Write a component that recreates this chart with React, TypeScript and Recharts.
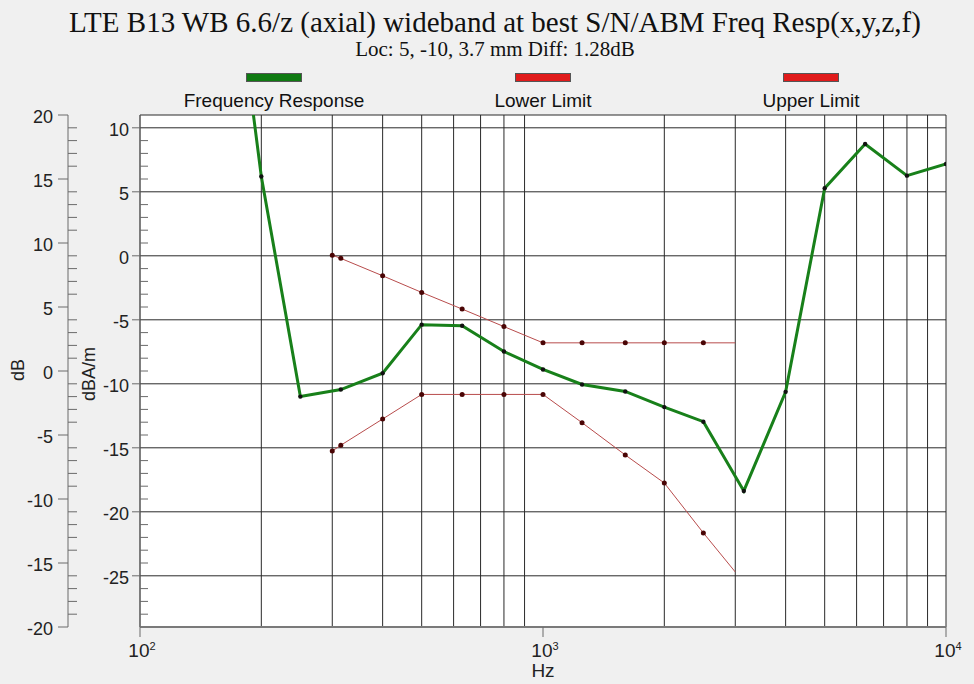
import React from "react";
import { CartesianGrid, Line, LineChart, XAxis, YAxis } from "recharts";

// Frequency response (dBA/m) at third-octave bands.
const respFreq = [160, 200, 250, 315, 400, 500, 630, 800, 1000, 1250, 1600, 2000, 2500, 3150, 4000, 5000, 6300, 8000, 10000];
const respVals = [30, 6.2, -11.0, -10.45, -9.17, -5.38, -5.46, -7.48, -8.88, -10.05, -10.6, -11.82, -12.96, -18.37, -10.63, 5.28, 8.73, 6.26, 7.17];

// Limit mask, upper and lower edge.
const limitFreq = [300, 315, 400, 500, 630, 800, 1000, 1250, 1600, 2000, 2500, 3000];
const upperVals = [0.05, -0.2, -1.56, -2.86, -4.16, -5.53, -6.8, -6.8, -6.8, -6.8, -6.8, -6.8];
const lowerVals = [-15.25, -14.8, -12.75, -10.83, -10.83, -10.83, -10.83, -13.04, -15.56, -17.75, -21.65, -24.7];

const decadeTicks = [100, 1000, 10000];
const gridFreqs = [200, 300, 400, 500, 600, 700, 800, 900, 2000, 3000, 4000, 5000, 6000, 7000, 8000, 9000];
const dbaGrid = [-25, -20, -15, -10, -5, 0, 5, 10];
const dbaTicks = Array.from({ length: 39 }, (_, i) => i - 28);
const dbTicks = Array.from({ length: 41 }, (_, i) => i - 20);

const legendNames = ["Frequency Response", "Lower Limit", "Upper Limit"];
const legendColors = ["#0f7a12", "#e01b1b", "#e01b1b"];
const legendCenters = [274, 543, 811];

const resp = respFreq.map((f, i) => ({ f, v: respVals[i] }));
const upper = limitFreq.map((f, i) => ({ f, v: upperVals[i] }));
const lower = limitFreq.map((f, i) => ({ f, v: lowerVals[i] }));

const FONT = "'Liberation Sans', Arial, sans-serif";
const SERIF = "'Liberation Serif', 'Times New Roman', serif";
const AXIS = "#6a6a6a";

function YTick(props: any) {
  const { x, y, payload, len, minor, gap } = props;
  const v = payload.value;
  if (v % 5 !== 0) {
    return <line x1={x} x2={x + minor} y1={y} y2={y} stroke={AXIS} />;
  }
  return (
    <g>
      <line x1={x - len} x2={x} y1={y} y2={y} stroke={AXIS} />
      <text x={x - len - gap} y={y + 2} textAnchor="end" dominantBaseline="central" fontSize={18} fontFamily={FONT} fill="#222">
        {v}
      </text>
    </g>
  );
}

function XTick(props: any) {
  const { x, y, payload } = props;
  const exp = Math.round(Math.log10(payload.value));
  return (
    <g>
      <line x1={x} x2={x} y1={y} y2={y + 10} stroke={AXIS} />
      <text x={x + 2} y={y + 30} textAnchor="middle" fontSize={19} fontFamily={FONT} fill="#222">
        10
        <tspan dy={-7} fontSize={11}>{exp}</tspan>
      </text>
    </g>
  );
}

function LimitDot(props: any) {
  const { cx, cy, index } = props;
  if (index === limitFreq.length - 1) return <g key={index} />;
  return <circle key={index} cx={cx} cy={cy} r={2.5} fill="#4a0505" />;
}

function RespDot(props: any) {
  const { cx, cy, index } = props;
  return <circle key={index} cx={cx} cy={cy} r={2.2} fill="#111" />;
}

export default function App() {
  return (
    <div style={{ position: "absolute", left: 0, top: 0, width: 974, height: 684, background: "#f0f0f0", overflow: "hidden" }}>
      <div style={{ position: "absolute", top: 8, left: 8, width: 974, textAlign: "center", fontFamily: SERIF, fontSize: 29, color: "#111", lineHeight: "29px" }}>
        LTE B13 WB 6.6/z (axial) wideband at best S/N/ABM Freq Resp(x,y,z,f)
      </div>
      <div style={{ position: "absolute", top: 40, left: 8, width: 974, textAlign: "center", fontFamily: SERIF, fontSize: 21, color: "#111", lineHeight: "18px" }}>
        Loc: 5, -10, 3.7 mm Diff: 1.28dB
      </div>
      {legendNames.map((name, i) => (
        <div key={name}>
          <div
            style={{
              position: "absolute",
              left: legendCenters[i] - 28,
              top: 73,
              width: 56,
              height: 9,
              background: legendColors[i],
              border: "1px solid #555",
              boxSizing: "border-box",
            }}
          />
          <div style={{ position: "absolute", left: legendCenters[i] - 150, width: 300, top: 90, textAlign: "center", fontFamily: FONT, fontSize: 19, color: "#111" }}>
            {name}
          </div>
        </div>
      ))}
      <div style={{ position: "absolute", left: 0, top: 0 }}>
        <LineChart width={974} height={684} margin={{ top: 115, right: 28, bottom: 0, left: 28 }}>
          <CartesianGrid xAxisId="zgx" yAxisId="zgy" fill="#ffffff" stroke="#2a2a2a" />
          <XAxis
            xAxisId="ax"
            dataKey="f"
            type="number"
            scale="log"
            domain={[100, 10000]}
            ticks={decadeTicks}
            interval={0}
            height={57}
            tickSize={0}
            tickMargin={0}
            tickLine={false}
            tick={<XTick />}
            axisLine={{ stroke: "#7a7a7a", strokeWidth: 2 }}
            allowDataOverflow
          />
          <XAxis xAxisId="top" orientation="top" type="number" domain={[0, 1]} height={0} tick={false} tickLine={false} axisLine={{ stroke: AXIS }} allowDataOverflow />
          <XAxis xAxisId="zgx" dataKey="f" type="number" scale="log" domain={[100, 10000]} ticks={gridFreqs} interval={0} height={0} hide allowDataOverflow />
          <YAxis
            yAxisId="a1"
            type="number"
            domain={[-29, 11]}
            ticks={dbaTicks}
            interval={0}
            width={72}
            tickSize={0}
            tickMargin={0}
            tickLine={false}
            tick={<YTick len={8} minor={8} gap={3} />}
            axisLine={{ stroke: AXIS }}
            allowDataOverflow
          />
          <YAxis
            yAxisId="a2"
            type="number"
            domain={[-20, 20]}
            ticks={dbTicks}
            interval={0}
            width={40}
            tickSize={0}
            tickMargin={0}
            tickLine={false}
            tick={<YTick len={10} minor={9} gap={5} />}
            axisLine={{ stroke: AXIS }}
            allowDataOverflow
          />
          <YAxis yAxisId="right" orientation="right" type="number" domain={[0, 1]} width={0} tick={false} tickLine={false} axisLine={{ stroke: AXIS }} allowDataOverflow />
          <YAxis yAxisId="zgy" type="number" domain={[-29, 11]} ticks={dbaGrid} interval={0} width={0} hide allowDataOverflow />
          <Line
            xAxisId="ax"
            yAxisId="a1"
            data={upper}
            dataKey="v"
            type="linear"
            stroke="#b84c4c"
            strokeWidth={1}
            dot={<LimitDot />}
            activeDot={false}
            isAnimationActive={false}
          />
          <Line
            xAxisId="ax"
            yAxisId="a1"
            data={lower}
            dataKey="v"
            type="linear"
            stroke="#b84c4c"
            strokeWidth={1}
            dot={<LimitDot />}
            activeDot={false}
            isAnimationActive={false}
          />
          <Line
            xAxisId="ax"
            yAxisId="a1"
            data={resp}
            dataKey="v"
            type="linear"
            stroke="#18801a"
            strokeWidth={3}
            dot={<RespDot />}
            activeDot={false}
            isAnimationActive={false}
          />
        </LineChart>
      </div>
      <div style={{ position: "absolute", left: 0, width: 974, top: 661, textAlign: "center", paddingLeft: 112, boxSizing: "border-box", fontFamily: FONT, fontSize: 19, color: "#222", lineHeight: "20px" }}>
        Hz
      </div>
      <div style={{ position: "absolute", left: 18, top: 370, transform: "translate(-50%, -50%) rotate(-90deg)", fontFamily: FONT, fontSize: 18, color: "#222" }}>
        dB
      </div>
      <div style={{ position: "absolute", left: 89, top: 374, transform: "translate(-50%, -50%) rotate(-90deg)", fontFamily: FONT, fontSize: 18, color: "#222", whiteSpace: "nowrap" }}>
        dBA/m
      </div>
    </div>
  );
}
